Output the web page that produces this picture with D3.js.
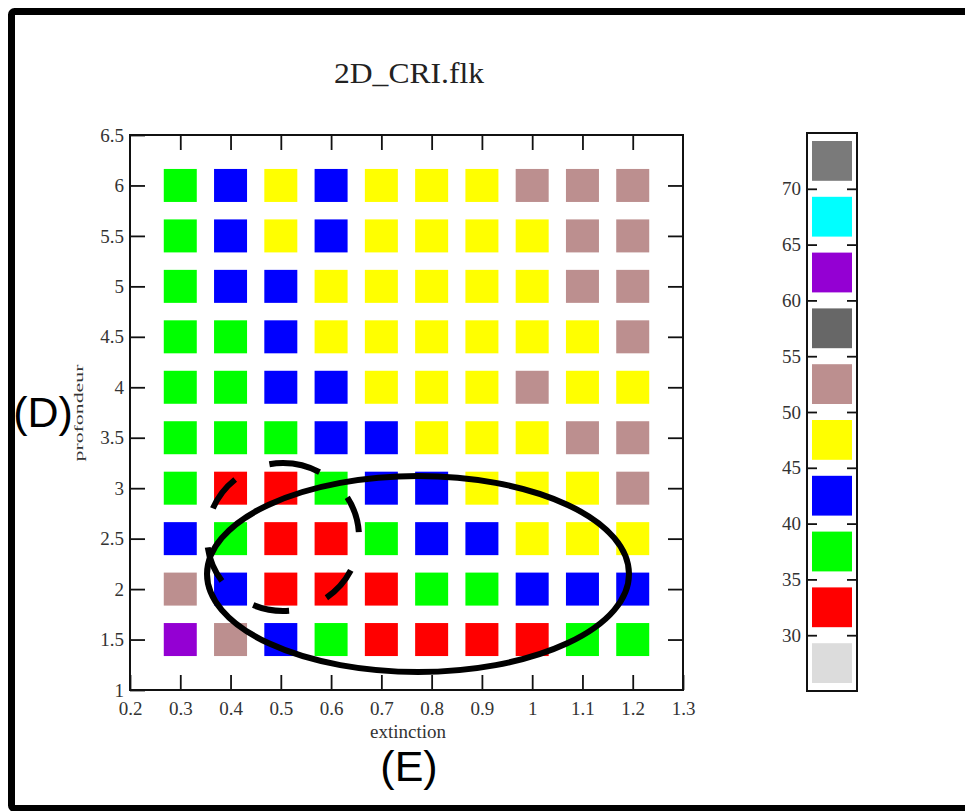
<!DOCTYPE html>
<html>
<head>
<meta charset="utf-8">
<script src="https://cdn.jsdelivr.net/npm/d3@7"></script>
<style>
  html, body { margin: 0; padding: 0; background: #fff; }
  svg { display: block; }
</style>
</head>
<body>
<svg id="chart" width="965" height="811"></svg>
<script>
// ---------- data ----------
const extinction = [0.3, 0.4, 0.5, 0.6, 0.7, 0.8, 0.9, 1.0, 1.1, 1.2];
const profondeur = [6, 5.5, 5, 4.5, 4, 3.5, 3, 2.5, 2, 1.5];
// CRI value per cell (rows follow profondeur, columns follow extinction)
const criRow6   = [37, 42, 47, 42, 47, 47, 47, 52, 52, 52];
const criRow55  = [37, 42, 47, 42, 47, 47, 47, 47, 52, 52];
const criRow5   = [37, 42, 42, 47, 47, 47, 47, 47, 52, 52];
const criRow45  = [37, 37, 42, 47, 47, 47, 47, 47, 47, 52];
const criRow4   = [37, 37, 42, 42, 47, 47, 47, 52, 47, 47];
const criRow35  = [37, 37, 37, 42, 42, 47, 47, 47, 52, 52];
const criRow3   = [37, 32, 32, 37, 42, 42, 47, 47, 47, 52];
const criRow25  = [42, 37, 32, 32, 37, 42, 42, 47, 47, 47];
const criRow2   = [52, 42, 32, 32, 32, 37, 37, 42, 42, 42];
const criRow15  = [62, 52, 42, 37, 32, 32, 32, 32, 37, 37];
const criRows = [criRow6, criRow55, criRow5, criRow45, criRow4, criRow35, criRow3, criRow25, criRow2, criRow15];

const xTicks = [0.2, 0.3, 0.4, 0.5, 0.6, 0.7, 0.8, 0.9, 1, 1.1, 1.2, 1.3];
const yTicks = [1, 1.5, 2, 2.5, 3, 3.5, 4, 4.5, 5, 5.5, 6, 6.5];
const legendBreaks = [25, 30, 35, 40, 45, 50, 55, 60, 65, 70, 75];
const legendTicks = [30, 35, 40, 45, 50, 55, 60, 65, 70];
const legendColors = ["#dcdcdc", "#ff0000", "#00ff00", "#0000ff", "#ffff00", "#bc8f8f", "#676767", "#9400d3", "#00ffff", "#7a7a7a"];

const titleText = "2D_CRI.flk";
const xLabel = "extinction";
const yLabel = "profondeur";

// ---------- layout ----------
const svg = d3.select("#chart");
const serif = "'Liberation Serif', 'Times New Roman', serif";
const sans = "'Liberation Sans', Arial, sans-serif";

const plot = { left: 130, right: 683, top: 135, bottom: 690 };
const x = d3.scaleLinear().domain([0.2, 1.3]).range([plot.left, plot.right]);
const y = d3.scaleLinear().domain([1, 6.5]).range([plot.bottom, plot.top]);
const color = d3.scaleThreshold().domain(legendBreaks.slice(1, -1)).range(legendColors);

// outer frame
svg.append("rect")
  .attr("x", 11.5).attr("y", 11.5)
  .attr("width", 1100).attr("height", 797)
  .attr("rx", 3)
  .attr("fill", "none").attr("stroke", "#000").attr("stroke-width", 7);

// title
svg.append("text")
  .attr("x", 409).attr("y", 83)
  .attr("text-anchor", "middle")
  .attr("font-family", serif).attr("font-size", 30)
  .attr("fill", "#222")
  .attr("textLength", 150).attr("lengthAdjust", "spacingAndGlyphs")
  .text(titleText);

// cells
const sq = 33;
const cells = [];
criRows.forEach((row, i) => row.forEach((v, j) => cells.push({ e: extinction[j], p: profondeur[i], v })));
svg.append("g").selectAll("rect").data(cells).join("rect")
  .attr("x", d => x(d.e) - sq / 2)
  .attr("y", d => y(d.p) - sq / 2)
  .attr("width", sq).attr("height", sq)
  .attr("fill", d => color(d.v));

// axes
const fmt = d => String(d);
const axStyle = g => {
  g.select(".domain").remove();
  g.selectAll(".tick line").attr("stroke", "#111").attr("stroke-width", 1.8);
  g.selectAll(".tick text").attr("font-family", serif).attr("font-size", 19).attr("fill", "#333");
};
svg.append("g").attr("transform", `translate(0,${plot.bottom})`)
  .call(d3.axisBottom(x).tickValues(xTicks).tickFormat(fmt).tickSize(-15).tickPadding(12))
  .call(axStyle);
svg.append("g").attr("transform", `translate(0,${plot.top})`)
  .call(d3.axisTop(x).tickValues(xTicks.slice(1, -1)).tickFormat("").tickSize(-15))
  .call(axStyle);
svg.append("g").attr("transform", `translate(${plot.left},0)`)
  .call(d3.axisLeft(y).tickValues(yTicks).tickFormat(fmt).tickSize(-15).tickPadding(6))
  .call(axStyle);
svg.append("g").attr("transform", `translate(${plot.right},0)`)
  .call(d3.axisRight(y).tickValues(yTicks.slice(1, -1)).tickFormat("").tickSize(-15))
  .call(axStyle);

svg.append("rect")
  .attr("x", plot.left).attr("y", plot.top)
  .attr("width", plot.right - plot.left).attr("height", plot.bottom - plot.top)
  .attr("fill", "none").attr("stroke", "#111").attr("stroke-width", 2);

// axis labels
svg.append("text")
  .attr("x", 408).attr("y", 738)
  .attr("text-anchor", "middle")
  .attr("font-family", serif).attr("font-size", 19).attr("fill", "#333")
  .text(xLabel);
svg.append("text")
  .attr("transform", "translate(83,413) rotate(-90)")
  .attr("text-anchor", "middle")
  .attr("font-family", serif).attr("font-size", 13).attr("fill", "#333")
  .attr("textLength", 97).attr("lengthAdjust", "spacingAndGlyphs")
  .text(yLabel);

// legend
const lg = { left: 807, right: 857 };
const ly = d3.scaleLinear().domain([25, 75]).range([691, 133]);
const legendData = legendColors.map((c, i) => ({ lo: legendBreaks[i], hi: legendBreaks[i + 1], c }));
svg.append("g").selectAll("rect").data(legendData).join("rect")
  .attr("x", lg.left + 5)
  .attr("y", d => ly(d.hi) + 8)
  .attr("width", lg.right - lg.left - 10)
  .attr("height", d => ly(d.lo) - ly(d.hi) - 16)
  .attr("fill", d => d.c);
svg.append("rect")
  .attr("x", lg.left).attr("y", ly(75))
  .attr("width", lg.right - lg.left).attr("height", ly(25) - ly(75))
  .attr("fill", "none").attr("stroke", "#111").attr("stroke-width", 2);
const lAxL = svg.append("g").attr("transform", `translate(${lg.left},0)`)
  .call(d3.axisLeft(ly).tickValues(legendTicks).tickFormat(fmt).tickSize(-10).tickPadding(6))
  .call(axStyle);
svg.append("g").attr("transform", `translate(${lg.right},0)`)
  .call(d3.axisRight(ly).tickValues(legendTicks).tickFormat("").tickSize(-10))
  .call(axStyle);

// annotations
svg.append("ellipse")
  .attr("cx", 418).attr("cy", 574).attr("rx", 211).attr("ry", 98)
  .attr("fill", "none").attr("stroke", "#000").attr("stroke-width", 6);
svg.append("ellipse")
  .attr("cx", 283).attr("cy", 537).attr("rx", 76).attr("ry", 74)
  .attr("pathLength", 473)
  .attr("fill", "none").attr("stroke", "#000").attr("stroke-width", 6)
  .attr("stroke-dasharray", "0 35 37 40 37 40 37 40 37 38 52 38 37 5");

svg.append("text")
  .attr("x", 43).attr("y", 427)
  .attr("text-anchor", "middle")
  .attr("font-family", sans).attr("font-size", 43).attr("fill", "#000")
  .text("(D)");
svg.append("text")
  .attr("x", 409).attr("y", 781)
  .attr("text-anchor", "middle")
  .attr("font-family", sans).attr("font-size", 43).attr("fill", "#000")
  .text("(E)");
</script>
</body>
</html>
